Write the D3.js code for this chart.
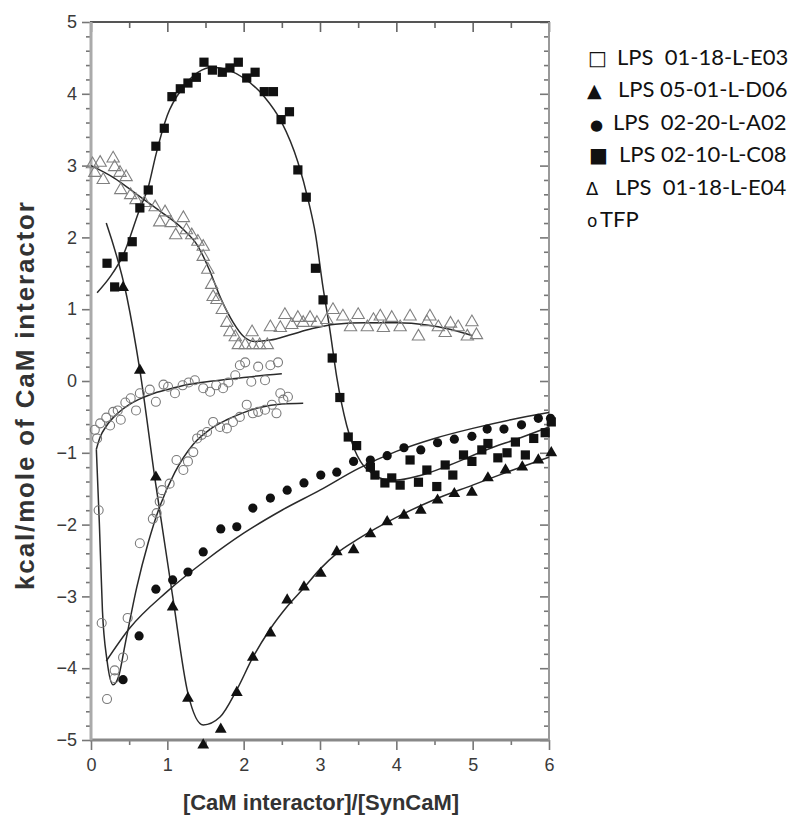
<!DOCTYPE html>
<html><head><meta charset="utf-8">
<script src="https://cdn.jsdelivr.net/npm/d3@7"></script>
<style>body{margin:0;background:#fff}</style>
</head><body>
<svg id="chart" width="798" height="818"></svg>
<script>
// ---------- data ----------
const xTicks = [0,1,2,3,4,5,6];
const yTicks = [-5,-4,-3,-2,-1,0,1,2,3,4,5];
const xLabel = "[CaM interactor]/[SynCaM]";
const yLabel = "kcal/mole of CaM interactor";

const legendSymbols = ["\u25A1","\u25B2","\u25CF","\u25A0","\u0394","o"];
const legendLabels = ["LPS  01-18-L-E03","LPS 05-01-L-D06","LPS  02-20-L-A02","LPS 02-10-L-C08","LPS  01-18-L-E04","TFP"];

// LPS 02-10-L-C08 (filled squares)
const sqPts = [[0.21,1.64],[0.31,1.31],[0.42,1.73],[0.54,1.94],[0.64,2.41],[0.75,2.66],[0.85,3.27],[0.96,3.52],[1.06,3.96],[1.17,4.07],[1.27,4.15],[1.38,4.23],[1.48,4.44],[1.59,4.33],[1.72,4.30],[1.82,4.36],[1.93,4.44],[2.04,4.22],[2.15,4.30],[2.27,4.03],[2.39,4.03],[2.49,3.64],[2.60,3.75],[2.71,2.94],[2.82,2.56],[2.94,1.57],[3.04,1.13],[3.16,0.32],[3.26,-0.23],[3.37,-0.78],[3.48,-0.90],[3.66,-1.20],[3.72,-1.31],[3.85,-1.42],[3.94,-1.35],[4.05,-1.45],[4.18,-1.10],[4.29,-1.41],[4.40,-1.24],[4.53,-1.47],[4.64,-1.17],[4.74,-1.31],[4.88,-1.03],[4.99,-1.12],[5.12,-0.96],[5.20,-0.87],[5.33,-1.07],[5.45,-1.00],[5.56,-0.85],[5.69,-1.03],[5.80,-0.80],[5.95,-0.72],[6.03,-0.57]];
const sqFit = [[0.08,1.23],[0.25,1.45],[0.42,1.75],[0.64,2.4],[0.75,2.7],[0.85,3.15],[1.0,3.7],[1.2,4.08],[1.4,4.3],[1.6,4.37],[1.8,4.33],[2.0,4.22],[2.27,3.96],[2.49,3.62],[2.71,3.05],[2.85,2.5],[2.94,2.05],[3.04,1.3],[3.13,0.71],[3.22,0.05],[3.35,-0.62],[3.45,-0.95],[3.53,-1.12],[3.7,-1.3],[3.85,-1.37],[4.0,-1.38],[4.3,-1.32],[4.7,-1.17],[5.2,-0.95],[5.6,-0.8],[6.0,-0.64]];

// LPS 05-01-L-D06 (filled triangles)
const triPts = [[0.42,1.30],[0.64,0.15],[0.85,-1.34],[1.07,-3.15],[1.27,-4.42],[1.47,-5.07],[1.70,-4.85],[1.91,-4.34],[2.12,-3.85],[2.35,-3.51],[2.57,-3.05],[2.79,-2.87],[3.01,-2.68],[3.22,-2.38],[3.44,-2.35],[3.66,-2.13],[3.88,-1.96],[4.10,-1.87],[4.32,-1.80],[4.54,-1.66],[4.76,-1.57],[4.99,-1.55],[5.20,-1.35],[5.43,-1.24],[5.65,-1.20],[5.86,-1.10],[6.03,-1.00]];
const triFit = [[0.2,2.2],[0.47,1.17],[0.64,0.15],[0.84,-1.38],[1.07,-3.0],[1.27,-4.35],[1.47,-4.79],[1.69,-4.68],[1.91,-4.3],[2.12,-3.85],[2.35,-3.45],[2.57,-3.14],[2.79,-2.88],[3.0,-2.62],[3.22,-2.4],[3.5,-2.2],[4.0,-1.9],[4.48,-1.66],[5.0,-1.45],[5.5,-1.25],[6.0,-1.06]];

// LPS 02-20-L-A02 (filled circles)
const cirPts = [[0.42,-4.16],[0.63,-3.55],[0.85,-2.90],[1.07,-2.77],[1.27,-2.66],[1.47,-2.38],[1.70,-2.06],[1.91,-2.03],[2.12,-1.77],[2.35,-1.63],[2.57,-1.52],[2.79,-1.42],[3.01,-1.31],[3.22,-1.27],[3.44,-1.12],[3.66,-1.10],[3.88,-1.04],[4.10,-0.93],[4.32,-0.96],[4.54,-0.86],[4.76,-0.81],[4.99,-0.77],[5.19,-0.67],[5.41,-0.67],[5.64,-0.61],[5.86,-0.52],[6.02,-0.52]];
const cirFit = [[0.2,-3.9],[0.5,-3.45],[1.0,-2.93],[1.5,-2.5],[2.0,-2.12],[2.5,-1.8],[3.0,-1.52],[3.5,-1.22],[4.0,-0.98],[4.5,-0.8],[5.0,-0.66],[5.5,-0.54],[6.0,-0.44]];

// LPS 01-18-L-E04 (open triangles)
const otriPts = [[0.02,3.02],[0.05,2.9],[0.12,3.04],[0.16,2.80],[0.29,3.10],[0.31,2.98],[0.38,2.90],[0.46,2.84],[0.39,2.66],[0.52,2.59],[0.59,2.52],[0.70,2.48],[0.84,2.42],[0.90,2.21],[0.97,2.35],[1.05,2.20],[1.11,2.03],[1.21,2.27],[1.25,2.10],[1.32,2.03],[1.40,1.94],[1.47,1.87],[1.47,1.73],[1.53,1.55],[1.58,1.34],[1.60,1.17],[1.65,1.13],[1.72,0.99],[1.78,0.81],[1.82,0.68],[1.89,0.61],[1.93,0.50],[2.02,0.50],[2.11,0.68],[2.12,0.50],[2.21,0.50],[2.31,0.50],[2.35,0.75],[2.48,0.74],[2.54,0.92],[2.63,0.78],[2.71,0.88],[2.78,0.81],[2.87,0.88],[2.96,0.81],[3.09,0.85],[3.17,0.99],[3.30,0.90],[3.40,0.75],[3.50,0.92],[3.62,0.75],[3.70,0.85],[3.79,0.90],[3.83,0.74],[3.94,0.88],[4.05,0.75],[4.18,0.90],[4.29,0.62],[4.40,0.82],[4.44,0.90],[4.55,0.75],[4.64,0.67],[4.71,0.80],[4.81,0.75],[4.93,0.62],[4.99,0.82],[5.05,0.64]];
const otriFit = [[0.0,3.0],[0.3,2.83],[0.6,2.6],[0.9,2.37],[1.2,2.12],[1.4,1.88],[1.55,1.55],[1.7,1.15],[1.86,0.82],[2.0,0.62],[2.15,0.55],[2.35,0.57],[2.6,0.64],[2.9,0.73],[3.2,0.79],[3.6,0.81],[4.0,0.81],[4.4,0.78],[4.7,0.72],[5.0,0.63]];

// TFP (open circles), two titrations
const tfpAPts = [[0.05,-0.68],[0.08,-0.80],[0.12,-0.59],[0.20,-0.51],[0.25,-0.62],[0.29,-0.43],[0.35,-0.41],[0.39,-0.54],[0.45,-0.30],[0.52,-0.24],[0.59,-0.41],[0.64,-0.17],[0.77,-0.12],[0.85,-0.29],[0.95,-0.05],[1.01,-0.08],[1.10,-0.17],[1.20,-0.06],[1.28,-0.02],[1.36,0.01],[1.47,-0.10],[1.56,-0.15],[1.64,-0.06],[1.73,-0.10],[1.80,-0.02],[1.89,0.08],[1.95,0.22],[2.02,0.26],[2.10,-0.01],[2.19,0.20],[2.28,0.01],[2.35,0.22],[2.45,0.26]];
const tfpAFit = [[0.07,-0.95],[0.12,-0.78],[0.2,-0.63],[0.35,-0.45],[0.5,-0.33],[0.62,-0.26],[0.8,-0.18],[1.0,-0.12],[1.27,-0.05],[1.6,0.0],[2.0,0.05],[2.5,0.1]];
const tfpBPts = [[0.10,-1.80],[0.14,-3.37],[0.21,-4.43],[0.31,-4.03],[0.31,-4.14],[0.42,-3.85],[0.48,-3.30],[0.64,-2.26],[0.81,-1.92],[0.86,-1.84],[0.90,-1.68],[0.93,-1.52],[1.03,-1.43],[1.12,-1.10],[1.21,-1.24],[1.27,-1.12],[1.34,-0.99],[1.39,-0.80],[1.45,-0.75],[1.52,-0.71],[1.60,-0.57],[1.69,-0.64],[1.78,-0.66],[1.86,-0.57],[1.95,-0.50],[2.04,-0.33],[2.12,-0.45],[2.19,-0.43],[2.28,-0.40],[2.37,-0.33],[2.43,-0.45],[2.48,-0.17],[2.52,-0.26],[2.58,-0.22]];
const tfpBFit = [[0.07,-0.95],[0.11,-2.0],[0.15,-3.2],[0.21,-3.89],[0.29,-4.23],[0.36,-4.12],[0.45,-3.65],[0.6,-2.87],[0.75,-2.25],[0.9,-1.75],[1.1,-1.27],[1.34,-0.88],[1.55,-0.68],[1.78,-0.54],[2.0,-0.44],[2.21,-0.37],[2.5,-0.32],[2.78,-0.31]];

// ---------- drawing ----------
const svg = d3.select("#chart");
const L = 91, R = 549, T = 22, B = 740;
const x = d3.scaleLinear().domain([0,6]).range([L,R]);
const y = d3.scaleLinear().domain([-5,5]).range([B,T]);
const tickFont = "'Liberation Sans', Arial, sans-serif";

function styleAxis(g, color){
  g.select(".domain").remove();
  g.selectAll(".tick line").attr("stroke", color).attr("stroke-width", 1.6);
  g.selectAll(".tick text").attr("fill","#3a3a3a").style("font-family", tickFont).style("font-size","18px");
}
const minorY = d3.range(-5, 5.001, 0.2).map(v => +v.toFixed(1)).filter(v => Math.abs(v - Math.round(v)) > 0.01);
const minorX = d3.range(0.5, 6, 1);

// bottom
svg.append("g").attr("transform",`translate(0,${B})`)
  .call(d3.axisBottom(x).tickValues(xTicks).tickSize(10).tickPadding(8).tickFormat(d3.format("d")))
  .call(g => styleAxis(g,"#777"));
svg.append("g").attr("transform",`translate(0,${B})`)
  .call(d3.axisBottom(x).tickValues(minorX).tickSize(5).tickFormat(""))
  .call(g => styleAxis(g,"#777"));
// top (inward)
svg.append("g").attr("transform",`translate(0,${T})`)
  .call(d3.axisBottom(x).tickValues(xTicks).tickSize(10).tickFormat(""))
  .call(g => styleAxis(g,"#666"));
svg.append("g").attr("transform",`translate(0,${T})`)
  .call(d3.axisBottom(x).tickValues(minorX).tickSize(6).tickFormat(""))
  .call(g => styleAxis(g,"#666"));
// left
svg.append("g").attr("transform",`translate(${L},0)`)
  .call(d3.axisLeft(y).tickValues(yTicks).tickSize(9).tickPadding(5).tickFormat(d3.format("d")))
  .call(g => styleAxis(g,"#777"));
svg.append("g").attr("transform",`translate(${L},0)`)
  .call(d3.axisLeft(y).tickValues(minorY).tickSize(5).tickFormat(""))
  .call(g => styleAxis(g,"#777"));
// right (inward)
svg.append("g").attr("transform",`translate(${R},0)`)
  .call(d3.axisLeft(y).tickValues(yTicks).tickSize(9).tickFormat(""))
  .call(g => styleAxis(g,"#777"));
svg.append("g").attr("transform",`translate(${R},0)`)
  .call(d3.axisLeft(y).tickValues(minorY).tickSize(5).tickFormat(""))
  .call(g => styleAxis(g,"#777"));

// frame
svg.append("line").attr("x1",L-1).attr("x2",R+1).attr("y1",T).attr("y2",T).attr("stroke","#555").attr("stroke-width",2);
svg.append("line").attr("x1",L-1).attr("x2",R+1).attr("y1",B).attr("y2",B).attr("stroke","#888").attr("stroke-width",3);
svg.append("line").attr("x1",L).attr("x2",L).attr("y1",T).attr("y2",B).attr("stroke","#aaa").attr("stroke-width",3);
svg.append("line").attr("x1",R).attr("x2",R).attr("y1",T).attr("y2",B).attr("stroke","#999").attr("stroke-width",2);

// fit lines
const line = d3.line().x(d => x(d[0])).y(d => y(d[1])).curve(d3.curveMonotoneX);
const fits = [sqFit, triFit, cirFit, otriFit, tfpAFit, tfpBFit];
svg.append("g").selectAll("path").data(fits).join("path")
  .attr("d", line).attr("fill","none").attr("stroke","#2a2a2a").attr("stroke-width",1.5);

// markers
const gm = svg.append("g");
gm.selectAll(".otri").data(otriPts).join("path")
  .attr("d", d3.symbol(d3.symbolTriangle, 66)())
  .attr("transform", d => `translate(${x(d[0])},${y(d[1])})`)
  .attr("fill","none").attr("stroke","#808080").attr("stroke-width",1.1);
gm.selectAll(".ocir").data(tfpAPts.concat(tfpBPts)).join("circle")
  .attr("cx", d => x(d[0])).attr("cy", d => y(d[1])).attr("r",4.5)
  .attr("fill","none").attr("stroke","#7a7a7a").attr("stroke-width",1.1);
gm.selectAll(".fcir").data(cirPts).join("circle")
  .attr("cx", d => x(d[0])).attr("cy", d => y(d[1])).attr("r",4.6)
  .attr("fill","#111");
gm.selectAll(".ftri").data(triPts).join("path")
  .attr("d", d3.symbol(d3.symbolTriangle, 60)())
  .attr("transform", d => `translate(${x(d[0])},${y(d[1])})`)
  .attr("fill","#111");
gm.selectAll(".fsq").data(sqPts).join("rect")
  .attr("x", d => x(d[0]) - 4.6).attr("y", d => y(d[1]) - 4.6)
  .attr("width",9.2).attr("height",9.2).attr("fill","#111");

// axis titles
svg.append("text").attr("x", 321).attr("y", 810)
  .attr("text-anchor","middle").attr("fill","#333")
  .style("font-family", tickFont).style("font-weight","bold").style("font-size","22px")
  .text(xLabel);
svg.append("text").attr("transform","translate(34,396) rotate(-90)")
  .attr("text-anchor","middle").attr("fill","#333")
  .attr("textLength", 388).attr("lengthAdjust","spacing")
  .style("font-family", tickFont).style("font-weight","bold").style("font-size","26px")
  .text(yLabel);

// legend
const lg = svg.append("g").style("font-family","Lato, 'Open Sans', sans-serif").attr("fill","#111");
const symX = [588, 587, 590, 589, 586, 587];
const symSize = [20, 19, 15, 20, 18, 17];
const labX = [617, 618, 613, 619, 615, 600];
lg.selectAll(".ls").data(legendSymbols).join("text")
  .attr("x", (d,i) => symX[i]).attr("y", (d,i) => 65 + i*32.4)
  .style("font-family","'DejaVu Sans', sans-serif")
  .style("font-size", (d,i) => symSize[i] + "px")
  .text(d => d);
lg.selectAll(".ll").data(legendLabels).join("text")
  .attr("x", (d,i) => labX[i]).attr("y", (d,i) => 65 + i*32.4)
  .style("font-size","22px").attr("xml:space","preserve").style("white-space","pre")
  .text(d => d);
</script>
</body></html>
